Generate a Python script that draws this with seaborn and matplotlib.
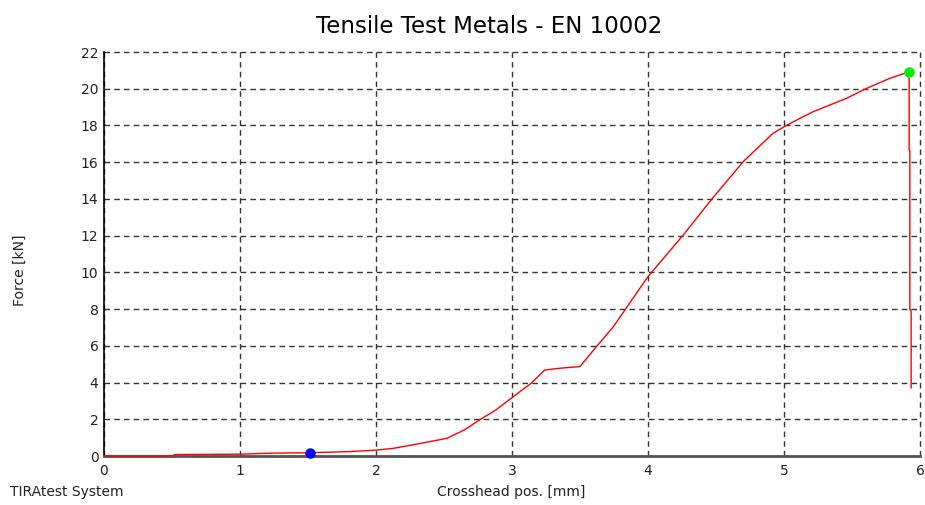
import pandas as pd
import seaborn as sns
import matplotlib.pyplot as plt

# Curve (crosshead position vs. force)
pos = [0, 0.5, 0.52, 1.0, 1.2, 1.515, 1.8, 2.0, 2.13, 2.3, 2.52, 2.65, 2.76, 2.88,
       3.0, 3.14, 3.24, 3.35, 3.5, 3.62, 3.745, 3.83, 4.0, 4.26, 4.47, 4.70, 4.92,
       5.01, 5.12, 5.215, 5.46, 5.61, 5.78, 5.92, 5.92, 5.925, 5.925, 5.935, 5.935]
force = [0, 0, 0.08, 0.1, 0.15, 0.18, 0.24, 0.32, 0.42, 0.65, 0.96, 1.42, 1.96, 2.5,
         3.18, 3.96, 4.68, 4.78, 4.87, 5.95, 7.04, 7.95, 9.77, 12.04, 14.0, 16.03, 17.58,
         17.97, 18.4, 18.75, 19.48, 20.03, 20.57, 20.93, 16.7, 16.6, 8.0, 7.9, 3.7]

# Marked points
start_pos, start_force = [1.515], [0.18]
max_pos, max_force = [5.92], [20.93]

x_ticks = [0, 1, 2, 3, 4, 5, 6]
y_ticks = [0, 2, 4, 6, 8, 10, 12, 14, 16, 18, 20, 22]

df = pd.DataFrame({'pos': pos, 'force': force})

sns.set_style('white')
plt.rcParams['font.family'] = ['DejaVu Sans']

fig = plt.figure(figsize=(9.25, 5.05), dpi=100)
ax = fig.add_axes([0.1124, 0.097, 0.8822, 0.8])

sns.lineplot(data=df, x='pos', y='force', sort=False, estimator=None,
             color='#ff0000', linewidth=1.0, ax=ax, zorder=4)
ax.lines[0].set_clip_on(False)
ax.plot(start_pos, start_force, 'o', color='#0000ff', markersize=6.5, zorder=5, clip_on=False)
ax.plot(max_pos, max_force, 'o', color='#00ee00', markersize=6.5, zorder=5, clip_on=False)

ax.set_xlim(0, 6)
ax.set_ylim(0, 22)
ax.set_xticks(x_ticks)
ax.set_yticks(y_ticks)

# dashed grid, the top/right edges are grid lines too
ax.grid(True, linestyle=(0, (4, 3)), color='#333333', linewidth=1.0)
for gl in ax.get_xgridlines() + ax.get_ygridlines():
    gl.set_clip_on(False)
ax.spines['top'].set_visible(False)
ax.spines['right'].set_visible(False)
ax.spines['left'].set_color('black')
ax.spines['left'].set_linewidth(1.2)
ax.spines['bottom'].set_color('#555555')
ax.spines['bottom'].set_linewidth(2)
ax.spines['bottom'].set_zorder(3)
ax.tick_params(axis='y', length=3, width=1, color='black', labelsize=10, labelcolor='#222222', pad=1)
ax.tick_params(axis='x', length=0, labelsize=10, labelcolor='#222222', pad=6)

ax.set_xlabel('')
ax.set_ylabel('')
fig.text(0.553, 0.012, 'Crosshead pos. [mm]', ha='center', va='bottom', fontsize=10, color='#222222')
fig.text(0.011, 0.012, 'TIRAtest System', ha='left', va='bottom', fontsize=10, color='#222222')
fig.text(0.022, 0.465, 'Force [kN]', rotation=90, ha='center', va='center', fontsize=10, color='#222222')
fig.text(0.529, 0.925, 'Tensile Test Metals - EN 10002', ha='center', va='bottom', fontsize=16.5, color='black')

plt.savefig('out.png', dpi=100)
